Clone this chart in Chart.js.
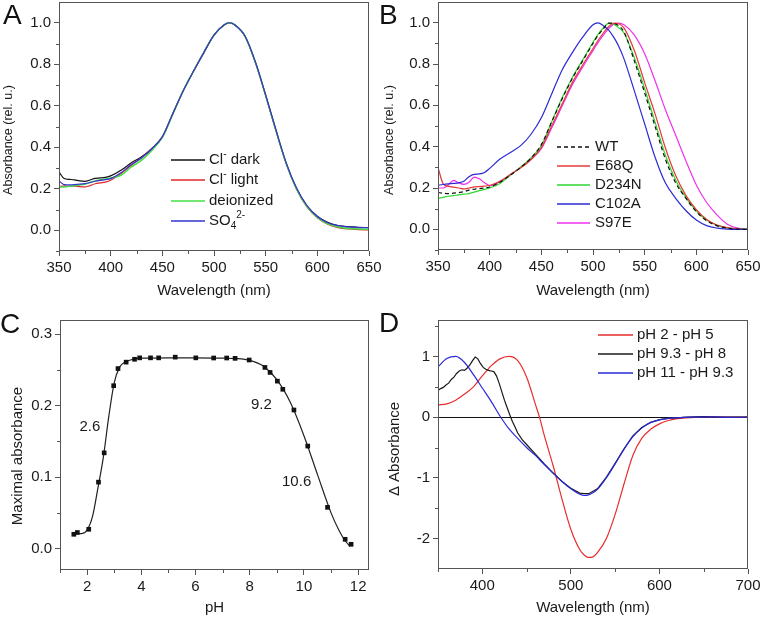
<!DOCTYPE html>
<html>
<head>
<meta charset="utf-8">
<script src="https://cdn.jsdelivr.net/npm/chart.js@4.4.0/dist/chart.umd.min.js"></script>
<style>
  body { margin: 0; background: #fff; }
  #fig { position: relative; width: 762px; height: 620px; }
  #fig canvas { position: absolute; }
  .tag { position: absolute; font: 28px "Liberation Sans", Arial, sans-serif; line-height: 28px; color: #111; }
</style>
</head>
<body>
<div id="fig">
  <canvas id="chartA" width="381" height="310" style="left:0;top:0"></canvas>
  <canvas id="chartB" width="381" height="310" style="left:381px;top:0"></canvas>
  <canvas id="chartC" width="381" height="310" style="left:0;top:310px"></canvas>
  <canvas id="chartD" width="381" height="310" style="left:381px;top:310px"></canvas>
  <div class="tag" style="left:3px;top:1px">A</div>
  <div class="tag" style="left:379px;top:1px">B</div>
  <div class="tag" style="left:0;top:310px">C</div>
  <div class="tag" style="left:379px;top:309px">D</div>
</div>
<script>
// ---- panel A: spectra in different anions ----
var wlA = [350,355,360,365,370,375,380,385,390,395,400,410,420,430,440,450,460,470,480,490,500,510,515,520,530,540,550,560,570,580,590,600,610,620,630,640,650];
var absDark  = [.281,.249,.245,.243,.238,.236,.242,.25,.252,.255,.262,.289,.325,.354,.394, .45,.56,.67,.765,.855,.94,.99,1.0,.99,.935,.81,.65,.48,.32,.2,.118, .068,.038,.023,.017,.014,.013];
var absLight = [.21,.214,.212,.212,.21,.209,.215,.224,.228,.232,.241,.273,.313,.35,.394, .45,.56,.67,.765,.855,.94,.99,1.0,.99,.935,.81,.65,.48,.32,.197,.112, .06,.029,.013,.006,.003,.002];
var absDeion = [.209,.209,.212,.215,.218,.222,.23,.238,.243,.247,.252,.265,.305,.338,.386, .447,.558,.67,.765,.855,.94,.99,1.0,.99,.935,.81,.65,.48,.32,.198,.114, .062,.031,.016,.009,.006,.005];
var absSO4   = [.238,.22,.219,.22,.222,.225,.23,.236,.24,.244,.249,.277,.317,.349,.394, .45,.56,.67,.765,.855,.94,.99,1.0,.99,.936,.812,.652,.483,.323,.202,.118, .066,.036,.022,.016,.013,.012];

// ---- panel B: mutants ----
var wlB = [350,355,360,365,370,375,380,385,390,395,400,410,420,430,440,450,460,470,480,490,500,505,510,515,520,525,530,540,550,560,570,580,590,600,610,620,630,640,650];
var absWT    = [.178,.175,.173,.175,.178,.182,.19,.194,.197,.2,.205, .228,.262,.3,.345,.41,.52,.63,.73,.815, .9,.94,.97,.998,.996,.985,.955, .815,.66,.5,.34,.225,.15,.085,.042,.017,.006,.001,0];
var absE68Q  = [.30,.22,.208,.204,.2,.196,.2,.205,.207,.209,.212, .232,.265,.298,.338,.395,.5,.605,.71,.795, .875,.915,.95,.98,.998,.995,.975, .865,.71,.56,.395,.26,.163,.095,.048,.021,.008,.002,0];
var absD234N = [.15,.155,.16,.163,.167,.17,.173,.18,.187,.193,.2, .222,.262,.302,.345,.405,.52,.635,.735,.82, .905,.945,.975,.997,.993,.975,.95, .83,.68,.52,.36,.238,.152,.09,.045,.019,.007,.002,0];
var absC102A = [.213,.217,.22,.222,.225,.233,.255,.266,.268,.275,.295, .34,.372,.405,.46,.54,.655,.77,.855,.93, .99,.999,.985,.965,.93,.885,.825, .67,.51,.35,.225,.15,.09,.045,.018,.006,.001,0,0];
var absS97E  = [.2,.2,.215,.237,.225,.218,.228,.253,.245,.225,.212, .232,.265,.298,.338,.39,.49,.595,.7,.785, .865,.905,.94,.97,.993,.998,.99, .94,.85,.72,.58,.455,.33,.215,.13,.07,.025,.006,0];

// ---- panel C: pH titration ----
var phPts  = [1.51,1.64,2.06,2.42,2.63,2.98,3.14,3.44,3.75,3.94,4.34,4.64,5.25,6.01,6.67,7.15,7.46,7.98,8.56,8.75,9.02,9.22,9.63,10.14,10.87,11.52,11.74];
var absPts = [.020,.0225,.027,.093,.134,.228,.252,.261,.265,.267,.267,.267,.268,.267,.2668,.2668,.2663,.264,.2536,.2466,.2344,.223,.194,.1435,.0577,.013,.006];
var phFit  = [1.6,1.8,2.0,2.2,2.4,2.6,2.8,3.0,3.2,3.4,3.7,4.0,5.0,6.0,7.0,7.5,8.0,8.5,9.0,9.5,10.0,10.5,11.0,11.3,11.5,11.7];
var absFit = [.021,.021,.026,.045,.085,.128,.185,.232,.254,.261,.265,.2665,.267,.267,.2665,.266,.2635,.2555,.2365,.2045,.158,.1035,.05,.025,.012,.003];
var pkText = ['2.6','9.2','10.6'];
var pkX    = [2.1,8.43,9.73];
var pkY    = [.171,.2015,.094];

// ---- panel D: difference spectra ----
var wlD   = [350,360,370,380,390,400,410,420,430,440,450,460,465,470,480,490,500,510,515,520,525,530,540,550,560,570,580,590,600,610,620,630,640,660,680,700];
var dAcid = [.2,.22,.28,.38,.5,.68,.845,.96,1.0,.93,.66,.21,-.02,-.3,-.8,-1.35,-1.85,-2.18,-2.27,-2.31,-2.3,-2.23,-2.0,-1.6,-1.1,-.63,-.35,-.2,-.11,-.055,-.025,-.01,-.003,0,0,0];
var dHigh = [.83,.965,1.0,.9,.7,.48,.26,.02,-.19,-.35,-.5,-.63,-.705,-.78,-.92,-1.06,-1.18,-1.27,-1.29,-1.28,-1.245,-1.19,-1.0,-.77,-.53,-.32,-.18,-.09,-.045,-.02,-.008,-.003,0,.005,-.003,0];
var wlMid = [350,353,356,359,362,365,368,371,374,377,380,383,386,389,392,395,398,401,404,407,410,413,416,419,422,425,428,431,434,437,440,445,450,460,470,480,490,500,510,515,520,530,540,550,560,570,580,590,600,610,620,630,650,670,700];
var dMid  = [.44,.47,.49,.53,.56,.62,.66,.72,.76,.78,.77,.81,.86,.93,.99,.96,.88,.82,.79,.77,.76,.75,.68,.56,.42,.28,.16,.04,-.07,-.16,-.26,-.37,-.45,-.61,-.77,-.92,-1.06,-1.17,-1.25,-1.26,-1.26,-1.18,-.99,-.76,-.52,-.31,-.17,-.085,-.04,-.02,-.01,0,.01,0,0];

// ticks
var wlMajor = [350,400,450,500,550,600,650];
var wlMinor = [375,425,475,525,575,625];
var relMajor = [0,.2,.4,.6,.8,1.0];
var relMinor = [-.1,.1,.3,.5,.7,.9];
var phMajor = [2,4,6,8,10,12];
var phMinor = [1,3,5,7,9,11];
var maxMajor = [0,.1,.2,.3];
var maxMinor = [.05,.15,.25];
var wlDMajor = [400,500,600,700];
var wlDMinor = [350,450,550,650];
var dMajor = [-2,-1,0,1];
var dMinor = [-1.5,-.5,.5,1.5];

var FONT = '"Liberation Sans", Arial, sans-serif';
var AXIS = '#555';
var INK = '#1a1a1a';

Chart.defaults.font.family = FONT;
Chart.defaults.font.size = 15;
Chart.defaults.color = INK;

function pairs(xs, ys) {
  return xs.map(function(x, i) { return {x: x, y: ys[i]}; });
}

// text with ^{..} and _{..} pieces, left aligned, vertically centred on y
function drawRich(ctx, text, x, y) {
  var parts = text.split(/(\^\{[^}]*\}|_\{[^}]*\})/);
  ctx.save();
  ctx.fillStyle = INK;
  ctx.textBaseline = 'middle';
  parts.forEach(function(p) {
    if (!p) return;
    var dy = 0, size = 15;
    if (p.indexOf('^{') === 0) { p = p.slice(2, -1); dy = -6; size = 10; }
    else if (p.indexOf('_{') === 0) { p = p.slice(2, -1); dy = 5; size = 10; }
    ctx.font = size + 'px ' + FONT;
    ctx.fillText(p, x, y + dy);
    x += ctx.measureText(p).width;
  });
  ctx.restore();
}

// closed box round the plot area
Chart.register({
  id: 'frame',
  afterDatasetsDraw: function(chart) {
    var a = chart.chartArea, ctx = chart.ctx;
    ctx.save();
    ctx.strokeStyle = AXIS;
    ctx.lineWidth = 1;
    ctx.strokeRect(Math.round(a.left) + 0.5, Math.round(a.top) + 0.5,
                   Math.round(a.right - a.left) - 1, Math.round(a.bottom - a.top) - 1);
    ctx.restore();
  }
});

// short unlabelled ticks between the major ones
Chart.register({
  id: 'minorTicks',
  afterDraw: function(chart, args, opts) {
    if (!opts.x) return;
    var ctx = chart.ctx, a = chart.chartArea;
    var sx = chart.scales.x, sy = chart.scales.y;
    ctx.save();
    ctx.strokeStyle = AXIS;
    ctx.lineWidth = 1;
    ctx.beginPath();
    opts.x.forEach(function(v) {
      var px = Math.round(sx.getPixelForValue(v)) + 0.5;
      ctx.moveTo(px, a.bottom);
      ctx.lineTo(px, a.bottom + 3);
    });
    opts.y.forEach(function(v) {
      var py = Math.round(sy.getPixelForValue(v)) + 0.5;
      ctx.moveTo(a.left, py);
      ctx.lineTo(a.left - 3, py);
    });
    ctx.stroke();
    ctx.restore();
  }
});

// rotated y title, placed by hand so it can sit off-centre like the original
Chart.register({
  id: 'sideTitle',
  afterDraw: function(chart, args, opts) {
    if (!opts.text) return;
    var ctx = chart.ctx;
    ctx.save();
    ctx.translate(opts.x, opts.y);
    ctx.rotate(-Math.PI / 2);
    ctx.font = opts.size + 'px ' + FONT;
    ctx.fillStyle = INK;
    ctx.textAlign = 'center';
    ctx.textBaseline = 'middle';
    ctx.fillText(opts.text, 0, 0);
    ctx.restore();
  }
});

// legend sitting inside the plot, one row per labelled dataset
Chart.register({
  id: 'boxLegend',
  afterDraw: function(chart, args, opts) {
    if (opts.top === undefined) return;
    var ctx = chart.ctx;
    chart.data.datasets.forEach(function(ds, i) {
      var y = Math.round(opts.top + i * opts.step);
      ctx.save();
      ctx.strokeStyle = ds.borderColor;
      ctx.lineWidth = 1.5;
      ctx.setLineDash(ds.borderDash ? ds.borderDash.slice() : []);
      ctx.beginPath();
      ctx.moveTo(opts.lineFrom, y);
      ctx.lineTo(opts.lineTo, y);
      ctx.stroke();
      ctx.restore();
      drawRich(ctx, ds.label, opts.textAt, y);
    });
  }
});

// pKa numbers placed in data coordinates
Chart.register({
  id: 'pkNotes',
  afterDatasetsDraw: function(chart, args, opts) {
    if (!opts.text) return;
    var ctx = chart.ctx, sx = chart.scales.x, sy = chart.scales.y;
    ctx.save();
    ctx.font = '15px ' + FONT;
    ctx.fillStyle = INK;
    ctx.textAlign = 'center';
    ctx.textBaseline = 'middle';
    opts.text.forEach(function(t, i) {
      ctx.fillText(t, sx.getPixelForValue(opts.x[i]), sy.getPixelForValue(opts.y[i]));
    });
    ctx.restore();
  }
});

function makePanel(id, p) {
  var box = p.box;
  var yGrid = {drawOnChartArea: false, tickLength: 5, tickColor: AXIS, color: AXIS};
  if (p.zeroLine) {
    yGrid = {
      drawOnChartArea: true, tickLength: 5, tickColor: AXIS,
      color: function(c) { return c.tick && c.tick.value === 0 ? '#111' : 'rgba(0,0,0,0)'; }
    };
  }
  return new Chart(document.getElementById(id), {
    type: 'line',
    data: {datasets: p.datasets},
    options: {
      responsive: false,
      animation: false,
      devicePixelRatio: 1,
      layout: {padding: {left: 0, top: box.top, right: 381 - box.right, bottom: 0}},
      elements: {
        point: {radius: 0},
        line: {borderWidth: 1.2, cubicInterpolationMode: 'monotone'}
      },
      plugins: {
        legend: {display: false},
        tooltip: {enabled: false},
        boxLegend: p.legend || {},
        minorTicks: {x: p.xMinor, y: p.yMinor},
        sideTitle: p.yTitle,
        pkNotes: p.notes || {}
      },
      scales: {
        x: {
          type: 'linear', min: p.xMin, max: p.xMax,
          afterBuildTicks: function(s) { s.ticks = p.xMajor.map(function(v) { return {value: v}; }); },
          afterFit: function(s) {
            s.height = 310 - box.bottom;
            s.paddingLeft = s.paddingRight = 0;
          },
          grid: {drawOnChartArea: false, tickLength: 5, tickColor: AXIS, color: AXIS},
          border: {display: false},
          ticks: {padding: 3, maxRotation: 0, autoSkip: false, color: INK,
                  callback: function(v) { return String(v); }},
          title: {display: true, text: p.xTitle, color: INK, font: {size: 15},
                  padding: {top: 0, bottom: p.xTitlePad}}
        },
        y: {
          type: 'linear', min: p.yMin, max: p.yMax,
          afterBuildTicks: function(s) { s.ticks = p.yMajor.map(function(v) { return {value: v}; }); },
          afterFit: function(s) {
            s.width = box.left;
            s.paddingTop = s.paddingBottom = 0;
          },
          grid: yGrid,
          border: {display: false},
          ticks: {padding: 3, autoSkip: false, color: INK, callback: p.yFmt}
        }
      }
    }
  });
}

function oneDec(v) { return v.toFixed(1); }

makePanel('chartA', {
  box: {left: 59, right: 369, top: 2, bottom: 251},
  xMin: 350, xMax: 650, yMin: -0.1, yMax: 1.1,
  xMajor: wlMajor, xMinor: wlMinor, yMajor: relMajor, yMinor: relMinor, yFmt: oneDec,
  xTitle: 'Wavelength (nm)', xTitlePad: 10,
  yTitle: {text: 'Absorbance (rel. u.)', size: 12.5, x: 9, y: 140},
  legend: {top: 160, step: 20.3, lineFrom: 171, lineTo: 205, textAt: 209},
  datasets: [
    {label: 'Cl^{-} dark', data: pairs(wlA, absDark), borderColor: '#111111', order: 3},
    {label: 'Cl^{-} light', data: pairs(wlA, absLight), borderColor: '#e0262b', order: 2},
    {label: 'deionized', data: pairs(wlA, absDeion), borderColor: '#44dd44', borderWidth: 1.5, order: 1},
    {label: 'SO_{4}^{2-}', data: pairs(wlA, absSO4), borderColor: '#3535d0', order: 0}
  ]
});

makePanel('chartB', {
  box: {left: 57, right: 367, top: 2, bottom: 250},
  xMin: 350, xMax: 650, yMin: -0.1, yMax: 1.1,
  xMajor: wlMajor, xMinor: wlMinor, yMajor: relMajor, yMinor: relMinor, yFmt: oneDec,
  xTitle: 'Wavelength (nm)', xTitlePad: 10,
  yTitle: {text: 'Absorbance (rel. u.)', size: 12.5, x: 9, y: 140},
  legend: {top: 147, step: 19, lineFrom: 176, lineTo: 209, textAt: 214},
  datasets: [
    {label: 'WT', data: pairs(wlB, absWT), borderColor: '#111111', borderDash: [4, 3], order: 0},
    {label: 'E68Q', data: pairs(wlB, absE68Q), borderColor: '#e23a3a', order: 2},
    {label: 'D234N', data: pairs(wlB, absD234N), borderColor: '#2fd62f', order: 3},
    {label: 'C102A', data: pairs(wlB, absC102A), borderColor: '#2a2ad4', order: 1},
    {label: 'S97E', data: pairs(wlB, absS97E), borderColor: '#ee30ee', order: 4}
  ]
});

makePanel('chartC', {
  box: {left: 60, right: 369, top: 10, bottom: 260},
  xMin: 1, xMax: 12.4, yMin: -0.03, yMax: 0.32,
  xMajor: phMajor, xMinor: phMinor, yMajor: maxMajor, yMinor: maxMinor, yFmt: oneDec,
  xTitle: 'pH', xTitlePad: 3,
  yTitle: {text: 'Maximal absorbance', size: 15, x: 18, y: 146},
  notes: {text: pkText, x: pkX, y: pkY},
  datasets: [
    {data: pairs(phPts, absPts), showLine: false, pointStyle: 'rect', pointRadius: 3.3,
     pointBackgroundColor: '#111111', pointBorderWidth: 0, order: 0},
    {data: pairs(phFit, absFit), borderColor: '#222222', order: 1}
  ]
});

makePanel('chartD', {
  box: {left: 57, right: 367, top: 10, bottom: 259},
  xMin: 350, xMax: 700, yMin: -2.5, yMax: 1.6,
  xMajor: wlDMajor, xMinor: wlDMinor, yMajor: dMajor, yMinor: dMinor,
  yFmt: function(v) { return String(v); },
  zeroLine: true,
  xTitle: 'Wavelength (nm)', xTitlePad: 3,
  yTitle: {text: '\u0394 Absorbance', size: 15, x: 14, y: 139},
  legend: {top: 25, step: 18.8, lineFrom: 217, lineTo: 252, textAt: 256},
  datasets: [
    {label: 'pH 2 - pH 5', data: pairs(wlD, dAcid), borderColor: '#e62e2e', order: 2},
    {label: 'pH 9.3 - pH 8', data: pairs(wlMid, dMid), borderColor: '#1a1a1a',
     cubicInterpolationMode: 'default', tension: 0, order: 1},
    {label: 'pH 11 - pH 9.3', data: pairs(wlD, dHigh), borderColor: '#2a2ad8', order: 0}
  ]
});
</script>
</body>
</html>
